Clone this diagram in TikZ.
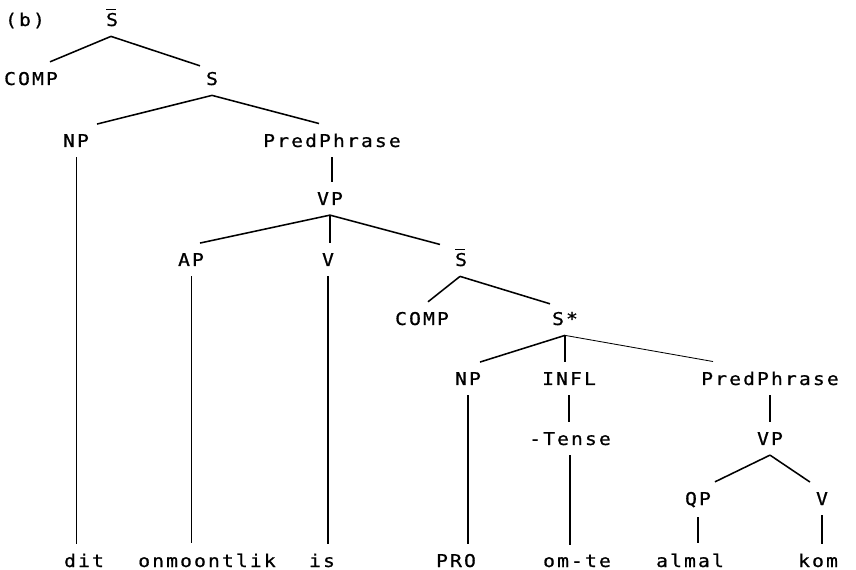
\documentclass[tikz,border=0pt]{standalone}
\usepackage{fontspec}
\setmainfont{DejaVu Sans Mono}
\newfontfamily\treefont[LetterSpace=12,FakeStretch=1.12,FakeBold=0.8]{DejaVu Sans Mono}
\usetikzlibrary{calc}

% S-bar category label
\newcommand{\Sbar}{\vbox{\hrule height 1.3pt\kern 1.8pt\hbox{\treefont S\kern-1.5pt}}}

\begin{document}
\begin{tikzpicture}[x=0.025cm,y=-0.025cm,
  lab/.style={anchor=base,inner xsep=1pt,inner ysep=7pt,font=\fontsize{12.5}{15}\treefont},
  branch/.style={line width=1.1pt},
  faint/.style={line width=0.6pt}]
\useasboundingbox (0,0) rectangle (856,570);

% Upper tree
\node[lab] (b) at (25,26) {(b)};
\node[lab] (sbar) at (111,26) {\Sbar};
\node[lab] (comp) at (31,85) {COMP};
\node[lab] (s) at (212,85) {S};
\node[lab] (np) at (76,147) {NP};
\node[lab] (pred) at (332,147) {PredPhrase};
\node[lab] (vp) at (330,205) {VP};
\node[lab] (ap) at (191,266) {AP};
\node[lab] (v) at (328,266) {V};
\node[lab] (sbarb) at (460,266) {\Sbar};

% Embedded clause
\node[lab] (compb) at (422,325) {COMP};
\node[lab] (sstar) at (565,325) {S*};
\node[lab] (npb) at (468,385) {NP};
\node[lab] (infl) at (569,385) {INFL};
\node[lab] (predb) at (770,385) {PredPhrase};
\node[lab] (tense) at (570,445) {-Tense};
\node[lab] (vpb) at (770,445) {VP};
\node[lab] (qp) at (698,505) {QP};
\node[lab] (vb) at (822,505) {V};

% Words
\node[lab] (dit) at (84,567) {dit};
\node[lab] (onm) at (207,567) {onmoontlik};
\node[lab] (is) at (322,567) {is};
\node[lab] (pro) at (456,567) {PRO};
\node[lab] (omte) at (577,567) {om-te};
\node[lab] (almal) at (690,567) {almal};
\node[lab] (kom) at (818,567) {kom};

% Branches
\draw[branch] (sbar.south) -- ($(comp.north)+(19,0)$);
\draw[branch] (sbar.south) -- ($(s.north)+(-12,4)$);
\draw[branch] (s.south) -- ($(np.north)+(21,0)$);
\draw[branch] (s.south) -- ($(pred.north)+(-13,0)$);
\draw[branch] (pred.south) -- (pred.south |- vp.north);
\draw[branch] (vp.south) -- ($(ap.north)+(9,0)$);
\draw[branch] (vp.south) -- (vp.south |- v.north);
\draw[branch] (vp.south) -- ($(sbarb.north)+(-20,6)$);
\draw[branch] (sbarb.south) -- ($(compb.north)+(6,0)$);
\draw[branch] (sbarb.south) -- ($(sstar.north)+(-15,2)$);
\draw[branch] (sstar.south) -- ($(npb.north)+(12,0)$);
\draw[branch] (sstar.south) -- (sstar.south |- infl.north);
\draw[faint] (sstar.south) -- ($(predb.north)+(-57,0)$);
\draw[branch] (infl.south) -- (infl.south |- tense.north);
\draw[branch] (predb.south) -- (predb.south |- vpb.north);
\draw[branch] (vpb.south) -- ($(qp.north)+(17,0)$);
\draw[branch] (vpb.south) -- ($(vb.north)+(-12,0)$);

% Lines down to the words
\draw[faint] (np.south) -- (np.south |- dit.north);
\draw[faint] (ap.south) -- (ap.south |- onm.north);
\draw[branch] (v.south) -- (v.south |- is.north);
\draw[branch] (npb.south) -- (npb.south |- pro.north);
\draw[branch] (tense.south) -- (tense.south |- omte.north);
\draw[branch] (qp.south) -- (qp.south |- almal.north);
\draw[branch] (vb.south) -- (vb.south |- kom.north);

\end{tikzpicture}
\end{document}
